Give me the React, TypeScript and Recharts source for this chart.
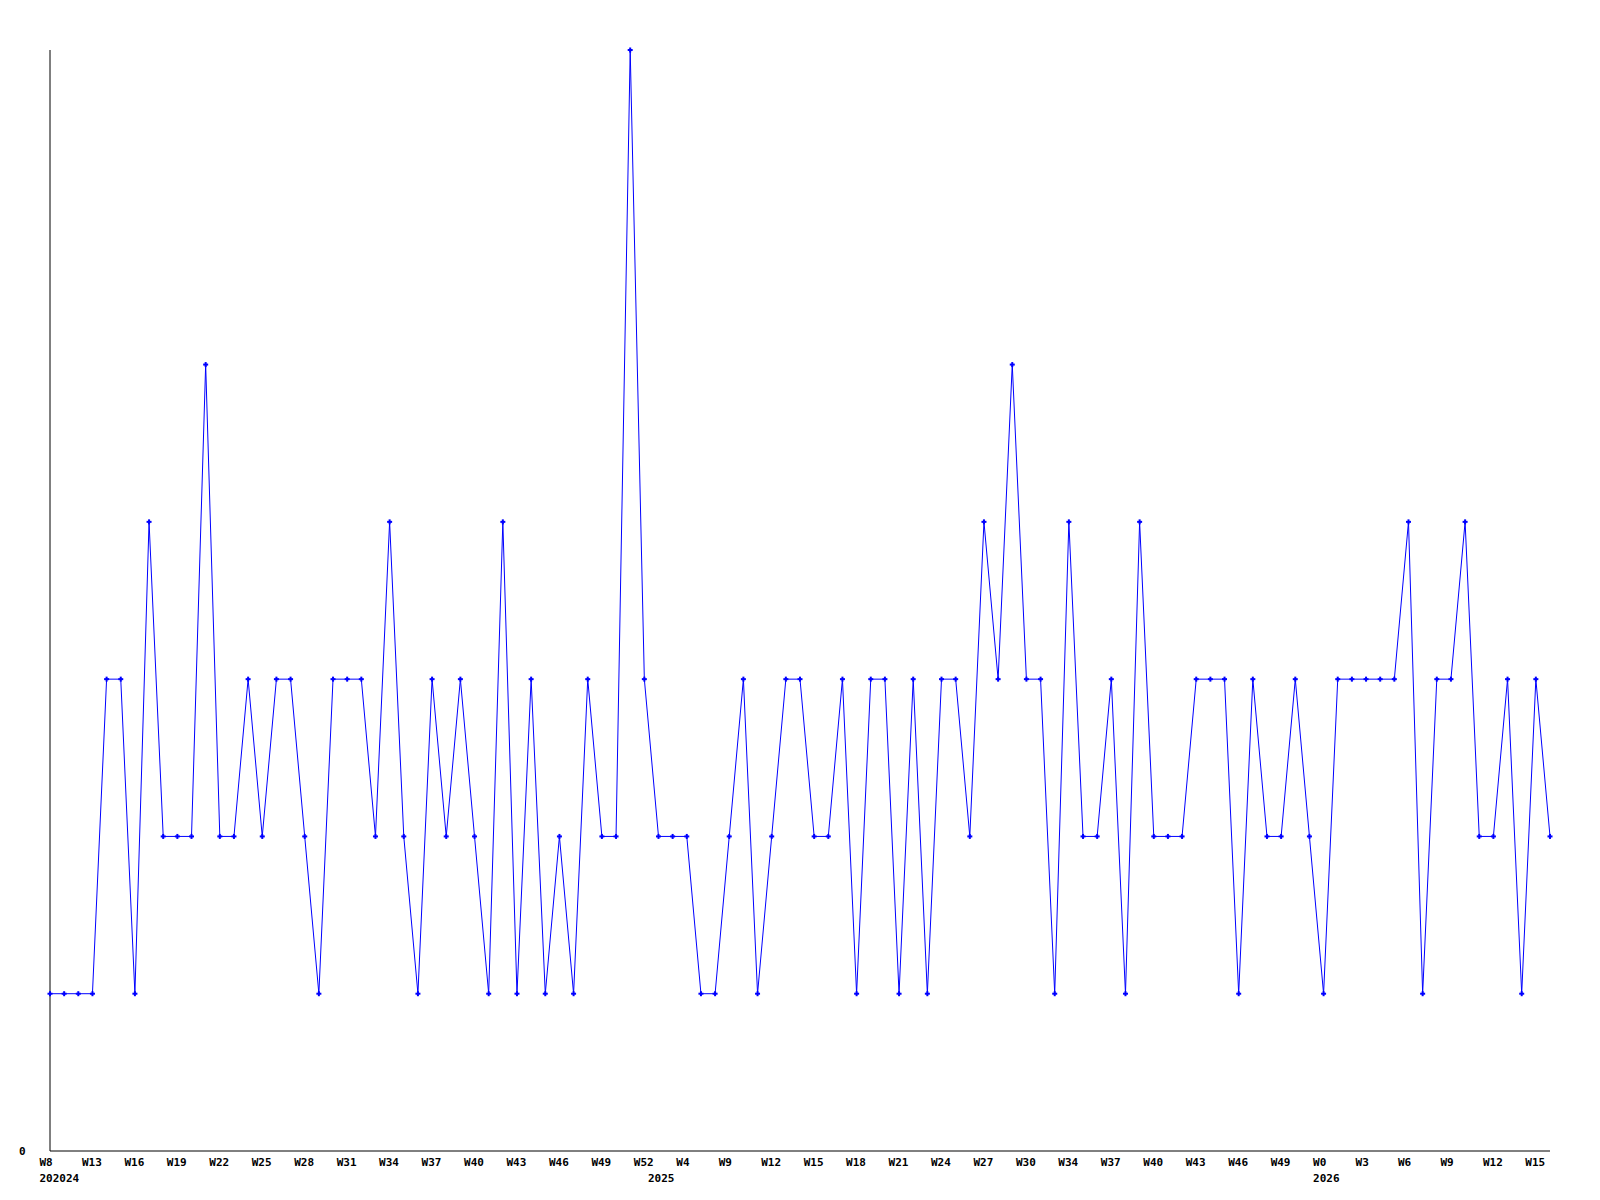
import { LineChart, Line, XAxis, YAxis } from "recharts"

// weekly counts, one per point
const counts = [
  1, 1, 1, 1, 3, 3, 1, 4, 2, 2, 2, 5, 2, 2, 3, 2, 3, 3, 2, 1,
  3, 3, 3, 2, 4, 2, 1, 3, 2, 3, 2, 1, 4, 1, 3, 1, 2, 1, 3, 2,
  2, 7, 3, 2, 2, 2, 1, 1, 2, 3, 1, 2, 3, 3, 2, 2, 3, 1, 3, 3,
  1, 3, 1, 3, 3, 2, 4, 3, 5, 3, 3, 1, 4, 2, 2, 3, 1, 4, 2, 2,
  2, 3, 3, 3, 1, 3, 2, 2, 3, 2, 1, 3, 3, 3, 3, 3, 4, 1, 3, 3,
  4, 2, 2, 3, 1, 3, 2,
]

// labels shown every third point
const weekLabels = [
  "W8", "W13", "W16", "W19", "W22", "W25", "W28", "W31", "W34", "W37",
  "W40", "W43", "W46", "W49", "W52", "W4", "W9", "W12", "W15", "W18",
  "W21", "W24", "W27", "W30", "W34", "W37", "W40", "W43", "W46", "W49",
  "W0", "W3", "W6", "W9", "W12", "W15",
]

// year captions: point index -> text
const yearIndex = [0, 43, 90]
const yearText = ["202024", "2025", "2026"]

const data = counts.map((v, i) => ({
  name: i % 3 === 0 ? weekLabels[i / 3] : "",
  value: v,
}))

const font = "'DejaVu Sans Mono', monospace"

function WeekTick(props: any) {
  const { x, y, index } = props
  const i = index ?? props.payload?.index
  const yi = yearIndex.indexOf(i)
  return (
    <g>
      {i % 3 === 0 && (
        <text x={x - 10.5} y={y + 13} fontFamily={font} fontWeight="bold" fontSize={11} fill="#000" textAnchor="start">
          {weekLabels[i / 3]}
        </text>
      )}
      {yi >= 0 && (
        <text x={x - 10.5} y={y + 29} fontFamily={font} fontWeight="bold" fontSize={11} fill="#000" textAnchor="start">
          {yearText[yi]}
        </text>
      )}
    </g>
  )
}

function ZeroTick(props: any) {
  const { y, payload } = props
  return (
    <text x={19} y={y + 4} fontFamily={font} fontWeight="bold" fontSize={11} fill="#000" textAnchor="start">
      {payload.value}
    </text>
  )
}

function Marker(props: any) {
  const { cx, cy } = props
  if (cx == null || cy == null) return null
  return (
    <g>
      <rect x={cx - 2.5} y={cy - 1} width={5} height={2} fill="#0000ff" />
      <rect x={cx - 1} y={cy - 2.5} width={2} height={5} fill="#0000ff" />
    </g>
  )
}

export default function App() {
  return (
    <div style={{ position: "absolute", left: 0, top: 0, background: "#fff" }}>
      <LineChart width={1600} height={1200} data={data} margin={{ top: 50, right: 50, left: 0, bottom: 0 }}>
        <XAxis
          dataKey="name"
          interval={0}
          tickLine={false}
          tickSize={0}
          height={49}
          axisLine={{ stroke: "#000", strokeWidth: 1 }}
          tick={<WeekTick />}
        />
        <YAxis
          width={50}
          domain={[0, 7]}
          ticks={[0]}
          tickLine={false}
          axisLine={{ stroke: "#000", strokeWidth: 1 }}
          tick={<ZeroTick />}
        />
        <Line
          type="linear"
          dataKey="value"
          stroke="#0000ff"
          strokeWidth={1}
          dot={<Marker />}
          activeDot={false}
          isAnimationActive={false}
        />
      </LineChart>
    </div>
  )
}
